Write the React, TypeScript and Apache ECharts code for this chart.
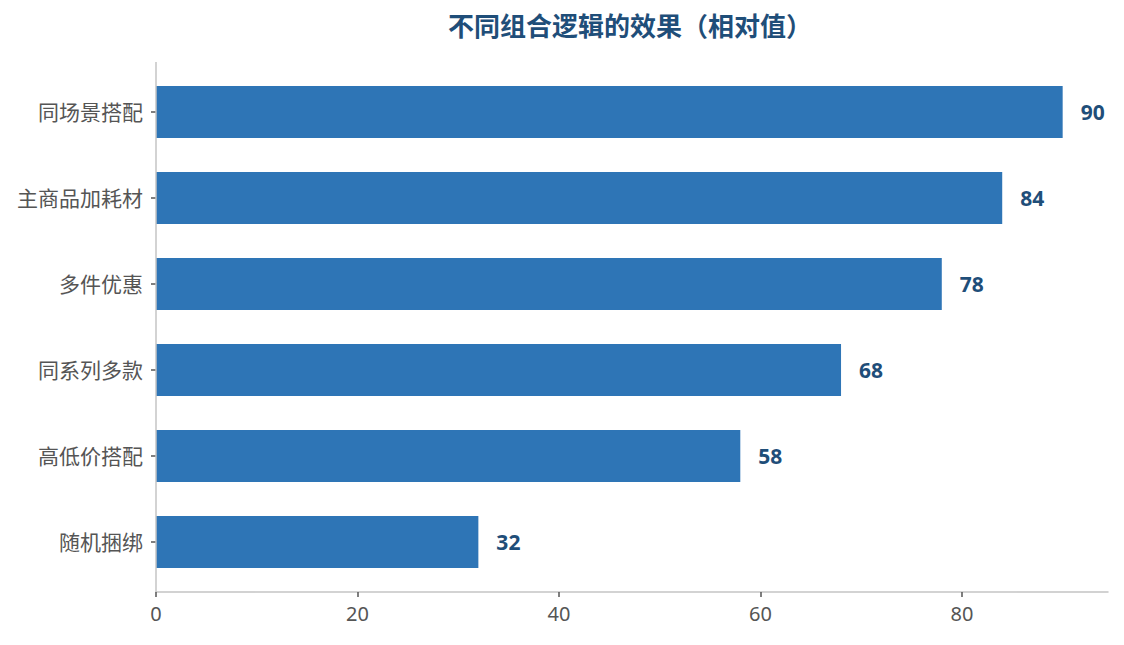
import { useEffect, useRef } from "react";
import * as echarts from "echarts";

const categories = ["随机捆绑", "高低价搭配", "同系列多款", "多件优惠", "主商品加耗材", "同场景搭配"];
const values = [32, 58, 68, 78, 84, 90];
const xTicks = [0, 20, 40, 60, 80];

const FONT = '"Noto Sans", "Noto Sans CJK SC", sans-serif';

export default function App() {
  const ref = useRef<HTMLDivElement | null>(null);

  useEffect(() => {
    document.body.style.margin = "0";
    if (!ref.current) return;
    const chart = echarts.init(ref.current, undefined, { renderer: "svg" });
    chart.setOption({
      animation: false,
      backgroundColor: "#ffffff",
      textStyle: { fontFamily: FONT },
      title: {
        text: "不同组合逻辑的效果（相对值）",
        left: 625,
        top: 8,
        textAlign: "center",
        textStyle: { color: "#1f4e79", fontSize: 26, fontWeight: "bold", fontFamily: FONT }
      },
      grid: { left: 156, right: 16, top: 69, bottom: 60 },
      xAxis: {
        type: "value",
        min: 0,
        max: 94.5,
        interval: 20,
        offset: 7,
        splitLine: { show: false },
        axisLine: { show: true, lineStyle: { color: "#c4c4c4", width: 1.5 } },
        axisTick: { show: true, length: 5, customValues: xTicks, lineStyle: { color: "#555555", width: 1.5 } },
        axisLabel: { customValues: xTicks, color: "#555555", fontSize: 20, margin: 11, fontFamily: FONT }
      },
      yAxis: {
        type: "category",
        data: categories,
        axisLine: { show: false },
        axisTick: { show: true, length: 5, alignWithLabel: true, lineStyle: { color: "#555555", width: 1.5 } },
        axisLabel: { color: "#555555", fontSize: 21, margin: 13, fontFamily: FONT }
      },
      graphic: [
        {
          type: "line",
          shape: { x1: 156, y1: 62, x2: 156, y2: 592 },
          style: { stroke: "#c4c4c4", lineWidth: 1.5 },
          z: 10
        }
      ],
      series: [
        {
          type: "bar",
          data: values,
          barWidth: 52,
          itemStyle: { color: "#2e75b6" },
          label: {
            show: true,
            position: "right",
            distance: 18,
            color: "#1f4e79",
            fontSize: 21,
            fontWeight: "bold",
            fontFamily: FONT
          }
        }
      ]
    });
    return () => chart.dispose();
  }, []);

  return <div ref={ref} style={{ width: 1124, height: 645 }} />;
}
